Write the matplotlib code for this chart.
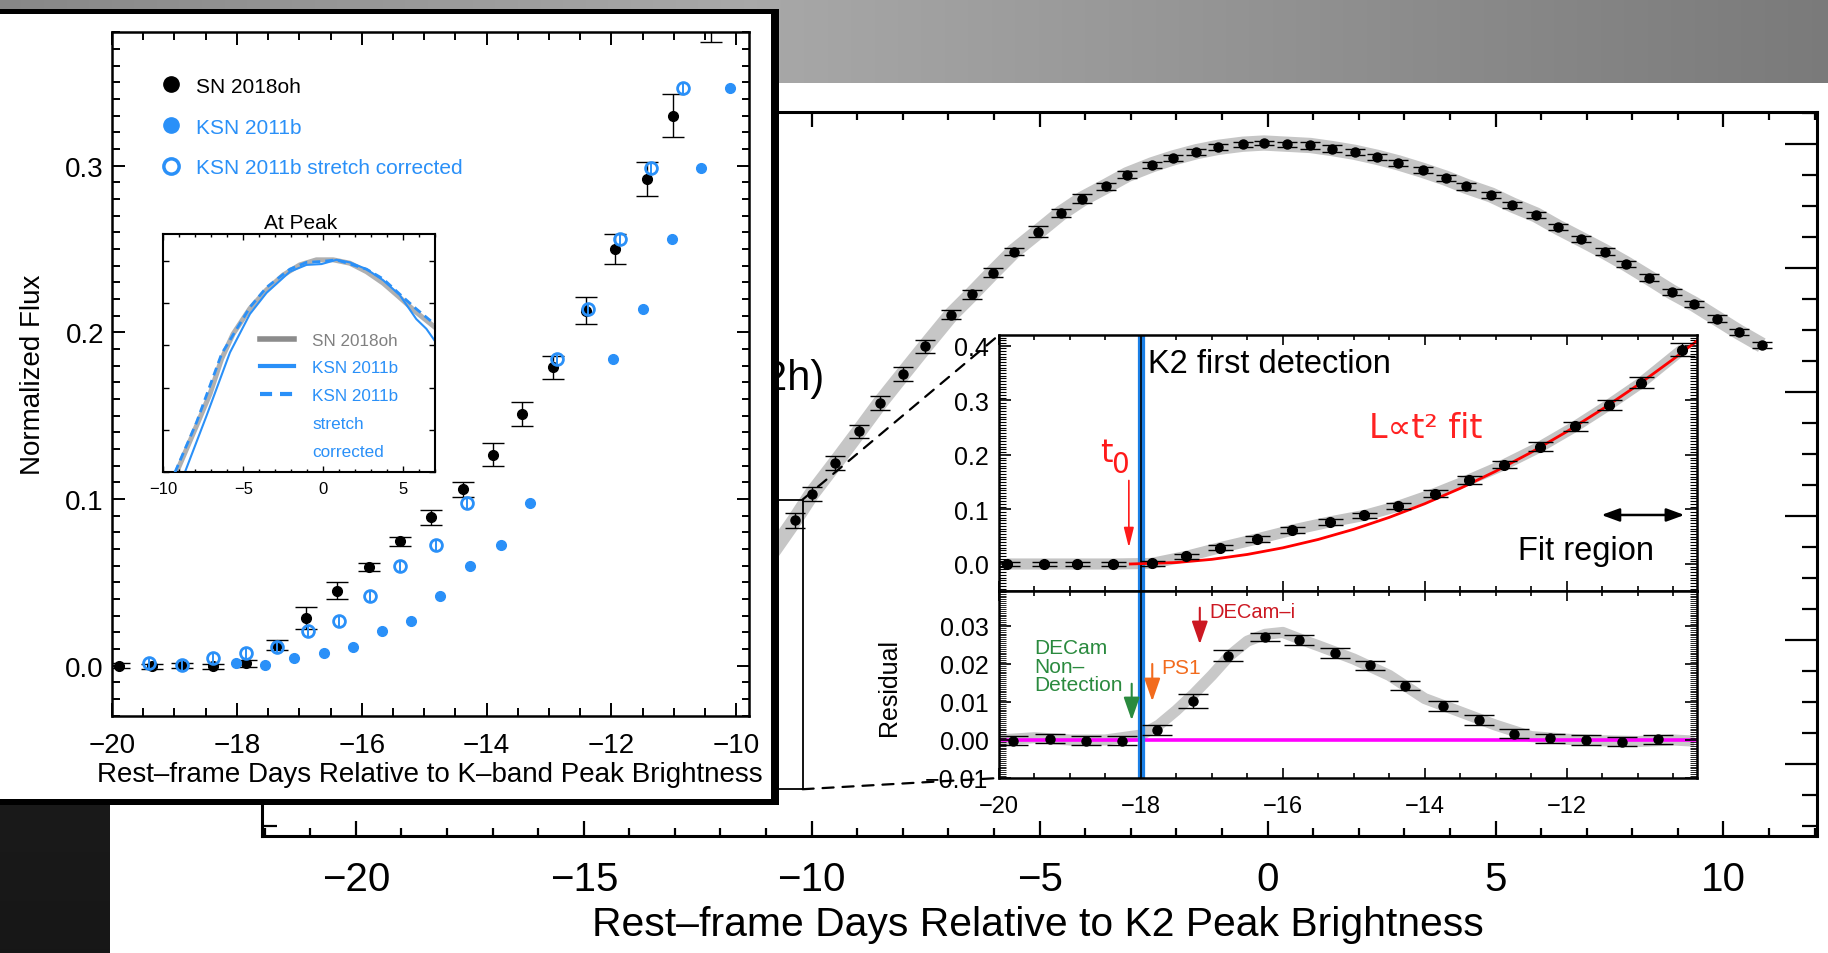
import numpy as np
import matplotlib
matplotlib.use("Agg")
import matplotlib.pyplot as plt
from matplotlib.patches import Rectangle, ConnectionPatch
from matplotlib.lines import Line2D
from matplotlib.ticker import MultipleLocator, FuncFormatter, NullFormatter

plt.rcParams['font.family'] = ['Liberation Sans', 'DejaVu Sans']
plt.rcParams['axes.unicode_minus'] = True

# ---------------------------------------------------------------- data
# K2 binned light curve (rest-frame days rel. to K2 peak, normalized flux)
k2_day = [-19.89, -19.36, -18.90, -18.40, -17.85, -17.36, -16.88, -16.36, -15.87, -15.34,
          -14.85, -14.37, -13.86, -13.38, -12.88, -12.37, -11.88, -11.40, -10.95, -10.37,
          -10.00, -9.48, -8.96, -8.50, -7.99, -7.51, -6.94, -6.49, -6.03, -5.57,
          -5.03, -4.53, -4.06, -3.55, -3.08, -2.53, -2.07, -1.56, -1.08, -0.55,
          -0.08, 0.43, 0.94, 1.42, 1.91, 2.40, 2.87, 3.40, 3.92, 4.36,
          4.91, 5.37, 5.89, 6.37, 6.87, 7.39, 7.87, 8.36, 8.86, 9.36,
          9.86, 10.34, 10.84]
k2_flux = [0.000, 0.000, 0.000, 0.000, 0.001, 0.014, 0.030, 0.046, 0.062, 0.077,
           0.089, 0.106, 0.129, 0.154, 0.182, 0.215, 0.252, 0.292, 0.332, 0.393,
           0.435, 0.485, 0.536, 0.582, 0.629, 0.673, 0.724, 0.757, 0.792, 0.826,
           0.858, 0.888, 0.911, 0.931, 0.950, 0.966, 0.977, 0.987, 0.994, 0.999,
           1.001, 0.999, 0.997, 0.992, 0.986, 0.978, 0.969, 0.957, 0.944, 0.931,
           0.917, 0.901, 0.885, 0.865, 0.846, 0.826, 0.806, 0.784, 0.761, 0.741,
           0.718, 0.696, 0.675]
k2_err = [0.004, 0.004, 0.004, 0.004, 0.004, 0.005, 0.005, 0.005, 0.005, 0.005,
          0.005, 0.006, 0.006, 0.007, 0.007, 0.008, 0.0085, 0.009, 0.0098, 0.012,
          0.012, 0.011, 0.011, 0.011, 0.011, 0.011, 0.007, 0.007, 0.007, 0.005,
          0.009, 0.007, 0.007, 0.006, 0.006, 0.005, 0.005, 0.005, 0.005, 0.004,
          0.004, 0.004, 0.005, 0.005, 0.005, 0.005, 0.005, 0.005, 0.005, 0.005,
          0.005, 0.005, 0.005, 0.005, 0.005, 0.005, 0.005, 0.005, 0.005, 0.005,
          0.005, 0.005, 0.005]

# L ~ t^2 fit
fit_day = [-18.15, -17.5, -17.0, -16.5, -16.0, -15.5, -15.0, -14.5, -14.0, -13.5,
           -13.0, -12.5, -12.0, -11.5, -11.0, -10.5, -10.17]
fit_flux = [0.0, 0.0027, 0.0085, 0.0175, 0.0296, 0.0450, 0.0636, 0.0854, 0.1104, 0.1386,
            0.1700, 0.2046, 0.2424, 0.2835, 0.3277, 0.3751, 0.4082]

# residual from the fit (binned) and the unbinned band
res_day = [-19.80, -19.28, -18.78, -18.26, -17.77, -17.26, -16.77, -16.25, -15.77, -15.26,
           -14.77, -14.28, -13.74, -13.24, -12.74, -12.23, -11.73, -11.22, -10.71]
res_val = [-0.0002, 0.0003, -0.0002, -0.0002, 0.0026, 0.0102, 0.0222, 0.0271, 0.0263, 0.0229,
           0.0197, 0.0143, 0.0089, 0.0052, 0.0016, 0.0004, 0.0000, -0.0004, 0.0002]
res_err = [0.0012, 0.0012, 0.0012, 0.0012, 0.0013, 0.0019, 0.0014, 0.0011, 0.0012, 0.0012,
           0.0012, 0.0012, 0.0014, 0.0013, 0.0012, 0.0012, 0.0012, 0.0012, 0.0012]
band_res_day = [-20.0, -19.5, -19.0, -18.5, -18.0, -17.75, -17.5, -17.25, -17.0, -16.75,
                -16.5, -16.25, -16.0, -15.75, -15.5, -15.0, -14.5, -14.0, -13.5, -13.0,
                -12.5, -12.0, -11.5, -11.0, -10.5, -10.2]
band_res_val = [0.0, 0.0006, 0.0, 0.0, 0.0013, 0.0039, 0.0078, 0.0122, 0.0170, 0.0222,
                0.0260, 0.0278, 0.0283, 0.0265, 0.0248, 0.0213, 0.0170, 0.0109, 0.0074, 0.0039,
                0.0009, 0.0002, -0.0002, -0.0004, 0.0, -0.0003]

# comparison panel: SN 2018oh vs KSN 2011b (days rel. to K-band peak)
sn18_day = [-19.88, -19.36, -18.88, -18.38, -17.86, -17.36, -16.89, -16.39, -15.88, -15.38,
            -14.89, -14.38, -13.90, -13.43, -12.93, -12.41, -11.94, -11.43, -11.01, -10.40]
sn18_flux = [0.000, -0.0002, 0.000, -0.0002, 0.0014, 0.0124, 0.0286, 0.0450, 0.0594, 0.0746,
             0.0890, 0.1058, 0.1266, 0.1510, 0.1790, 0.2130, 0.2500, 0.2920, 0.3300, 0.3900]
sn18_err = [0.0015, 0.0015, 0.0015, 0.0015, 0.002, 0.003, 0.0067, 0.0052, 0.0025, 0.0025,
            0.0045, 0.0046, 0.007, 0.0072, 0.007, 0.008, 0.009, 0.0103, 0.013, 0.016]
ksn_day = [-18.02, -17.55, -17.08, -16.61, -16.14, -15.67, -15.21, -14.74, -14.27, -13.77,
           -13.31, -11.97, -11.49, -11.03, -10.56, -10.10]
ksn_sc_day = [-19.40, -18.88, -18.38, -17.86, -17.36, -16.86, -16.37, -15.87, -15.38, -14.81,
              -14.32, -12.87, -12.37, -11.87, -11.37, -10.86]
ksn_flux = [0.0014, 0.0006, 0.0046, 0.0076, 0.0110, 0.0210, 0.0266, 0.0418, 0.0598, 0.0722,
            0.0978, 0.1840, 0.2140, 0.2560, 0.2986, 0.3465]

# "At Peak" curves
peak_sn_day = [-9.17, -7.92, -7.08, -6.35, -5.63, -4.58, -3.54, -2.50, -1.46, -0.42,
               0.63, 1.67, 2.71, 3.75, 4.79, 5.83, 6.98]
peak_sn_flux = [0.500, 0.610, 0.685, 0.768, 0.827, 0.887, 0.931, 0.966, 0.990, 1.002,
                1.002, 0.994, 0.974, 0.947, 0.913, 0.878, 0.843]
peak_ksn_day = [-8.65, -7.29, -5.83, -4.58, -3.54, -2.08, -1.04, -0.10, 0.83, 1.67,
                2.71, 3.75, 4.79, 5.83, 6.46, 6.98]
peak_ksn_flux = [0.500, 0.634, 0.783, 0.874, 0.924, 0.974, 0.990, 0.992, 1.002, 0.996,
                 0.980, 0.954, 0.919, 0.862, 0.839, 0.811]
peak_sc_day = [-9.27, -7.92, -6.35, -4.58, -3.54, -2.08, -1.04, -0.10, 0.83, 2.71,
               3.75, 4.79, 5.83, 6.98]
peak_sc_flux = [0.500, 0.618, 0.780, 0.890, 0.937, 0.980, 0.996, 0.998, 1.002, 0.980,
                0.957, 0.921, 0.886, 0.850]

# ---------------------------------------------------------------- styling
BLUE = '#2a90f8'
W, H = 1828, 954
fig = plt.figure(figsize=(W / 100, H / 100), dpi=100)


def box(l, t, r, b):
    return [l / W, 1 - b / H, (r - l) / W, (b - t) / H]


def mfmt(fmt):
    def f(v, p):
        if abs(v) < 1e-12:
            v = 0.0
        return (fmt % v).replace('-', '\u2212')
    return FuncFormatter(f)


def style(ax, spine_lw, tw, xl, xs, yl, ys, xsize, ysize, xpad, ypad, mw=None):
    for s in ax.spines.values():
        s.set_linewidth(spine_lw)
    ax.tick_params(which='both', direction='in', top=True, right=True, width=tw)
    ax.tick_params(axis='x', which='major', length=xl, pad=xpad, labelsize=xsize)
    ax.tick_params(axis='x', which='minor', length=xs)
    ax.tick_params(axis='y', which='major', length=yl, pad=ypad, labelsize=ysize)
    ax.tick_params(axis='y', which='minor', length=ys)
    if mw is not None:
        ax.tick_params(axis='y', which='minor', width=mw)


# ---------------------------------------------------------------- background
bg = fig.add_axes([0, 0, 1, 1], zorder=-10)
bg.axis('off')
xs_ = np.linspace(0, 1, 400)
gband = np.interp(xs_, [0, 750 / W, 1], [0.53, 0.66, 0.48])
bg.imshow(np.stack([gband] * 3, axis=-1)[None, :, :], extent=[0, W, 84, 0],
          aspect='auto', origin='upper', interpolation='bilinear')
ys_ = np.linspace(0.16, 0.09, 300)
bg.imshow(np.stack([ys_] * 3, axis=-1)[:, None, :], extent=[0, 110, H, 84],
          aspect='auto', origin='upper', interpolation='bilinear')
bg.set_xlim(0, W)
bg.set_ylim(H, 0)

# ---------------------------------------------------------------- main axes
axm = fig.add_axes(box(262.3, 113.3, 1816.5, 837), zorder=0)
axm.set_xlim(-22.05, 12.04)
axm.set_ylim(-0.1164, 1.0505)
axm.plot(k2_day, k2_flux, color='#c6c6c6', lw=11, zorder=2, solid_capstyle='butt')
axm.errorbar(k2_day, k2_flux, yerr=k2_err, fmt='o', color='k', ms=6.5, capsize=7,
             elinewidth=1.0, capthick=1.0, zorder=3)
axm.add_patch(Rectangle((-20.02, -0.041), 9.82, 0.467, fill=False, lw=1.3, ec='k', zorder=4))
axm.text(-9.72, 0.604, '(12h)', ha='right', va='baseline', fontsize=30)
axm.xaxis.set_major_locator(MultipleLocator(5))
axm.xaxis.set_minor_locator(MultipleLocator(1))
axm.yaxis.set_major_locator(MultipleLocator(0.2))
axm.yaxis.set_minor_locator(MultipleLocator(0.05))
axm.xaxis.set_major_formatter(mfmt('%d'))
style(axm, 2.2, 1.6, 11, 6, 23, 11, 29, 29, 17, 5)
axm.tick_params(axis='y', labelleft=False)
fig.text(1038 / W, 1 - 925 / H, 'Rest\u2013frame Days Relative to K2 Peak Brightness',
         ha='center', va='center', fontsize=29.4)

# ---------------------------------------------------------------- zoom inset (upper + residual)
axu = fig.add_axes(box(999, 336, 1696.5, 592), zorder=0.6)
axl = fig.add_axes(box(999, 592, 1696.5, 779), zorder=0.6)
n_rise = 20
axu.plot(k2_day[:n_rise], k2_flux[:n_rise], color='#c4c4c4', lw=8, zorder=1,
         solid_capstyle='butt')
axu.plot(fit_day, fit_flux, color='#ff0000', lw=2, zorder=2.5)
axu.errorbar(k2_day[:n_rise], k2_flux[:n_rise], yerr=k2_err[:n_rise], fmt='o', color='k',
             ms=7, capsize=9, elinewidth=1.0, capthick=1.0, zorder=3)
for a in (axu, axl):
    a.axvline(-18.0, color='#1a7fe6', lw=5.2, zorder=2)
    a.axvline(-18.0, color='k', lw=1.2, zorder=2.1)
    a.set_xlim(-20.0, -10.17)
    a.xaxis.set_major_locator(MultipleLocator(2))
    a.xaxis.set_minor_locator(MultipleLocator(0.5))
axu.set_ylim(-0.0495, 0.4196)
axu.yaxis.set_major_locator(MultipleLocator(0.1))
axu.yaxis.set_minor_locator(MultipleLocator(0.005))
axu.yaxis.set_major_formatter(mfmt('%.1f'))
axu.xaxis.set_major_formatter(NullFormatter())
style(axu, 1.8, 1.2, 7, 3.6, 8.4, 4.8, 17, 18, 12, 7.5, mw=0.8)

axu.text(-17.90, 0.351, 'K2 first detection', fontsize=23.5, va='baseline', ha='left')
axu.text(-14.78, 0.232, 'L\u221dt\u00b2 fit', fontsize=24, va='baseline', ha='left',
         color='#ff2222', family=['DejaVu Sans'])
axu.text(-12.69, 0.0092, 'Fit region', fontsize=23.5, va='baseline', ha='left')
axu.annotate('', xy=(-10.34, 0.0898), xytext=(-11.51, 0.0898),
             arrowprops=dict(arrowstyle='<|-|>,head_length=0.6,head_width=0.22',
                             color='k', lw=1.8, mutation_scale=18, shrinkA=0, shrinkB=0))
axu.text(-18.58, 0.189, 't', fontsize=23, va='baseline', ha='left', color='#ff1a1a',
         family=['DejaVu Sans'])
axu.text(-18.42, 0.168, '0', fontsize=20, va='baseline', ha='left', color='#ff1a1a',
         family=['DejaVu Sans'])
axu.annotate('', xy=(-18.17, 0.030), xytext=(-18.17, 0.153),
             arrowprops=dict(arrowstyle='-|>,head_length=0.8,head_width=0.2',
                             color='#ff1a1a', lw=1.2, mutation_scale=15, shrinkA=0, shrinkB=0))

axl.plot(band_res_day, band_res_val, color='#c8c8c8', lw=8, zorder=1, solid_capstyle='butt')
axl.axhline(0.0, color='#ff00ff', lw=2.6, zorder=1.5)
axl.errorbar(res_day, res_val, yerr=res_err, fmt='o', color='k', ms=6.5, capsize=11,
             elinewidth=1.0, capthick=1.0, zorder=3)
axl.set_ylim(-0.0100, 0.0392)
axl.yaxis.set_major_locator(MultipleLocator(0.01))
axl.yaxis.set_minor_locator(MultipleLocator(0.0005))
axl.yaxis.set_major_formatter(mfmt('%.2f'))
axl.xaxis.set_major_formatter(mfmt('%d'))
style(axl, 1.8, 1.2, 7, 3.6, 8.4, 4.8, 17, 18, 12, 7.5, mw=0.6)
axl.text(-0.157, 0.488, 'Residual', transform=axl.transAxes, rotation=90, ha='center',
         va='center', fontsize=18)

GREEN, ORANGE, DRED = '#2a8a3e', '#f26b1d', '#cc1822'
for txt, yv in (('DECam', 0.0243), ('Non\u2013', 0.0194), ('Detection', 0.0145)):
    axl.text(-19.50, yv, txt, color=GREEN, fontsize=15, ha='left', va='center')
axl.text(-17.72, 0.0191, 'PS1', color=ORANGE, fontsize=15, ha='left', va='center')
axl.text(-17.04, 0.0339, 'DECam\u2013i', color=DRED, fontsize=14.5, ha='left', va='center')
for xv, y0, y1, c in ((-18.13, 0.0148, 0.0052, GREEN), (-17.84, 0.0200, 0.0102, ORANGE),
                      (-17.17, 0.0348, 0.0252, DRED)):
    axl.annotate('', xy=(xv, y1), xytext=(xv, y0),
                 arrowprops=dict(arrowstyle='-|>,head_length=1.0,head_width=0.35',
                                 color=c, lw=1.5, mutation_scale=14, shrinkA=0, shrinkB=0))

# dashed connectors from the main-plot box to the inset
for yA, yB, axB in ((0.426, 1.0, axu), (-0.041, 0.0, axl)):
    con = ConnectionPatch(xyA=(-10.2, yA), coordsA=axm.transData, xyB=(0.0, yB),
                          coordsB=axB.transAxes, color='k', lw=1.6, ls=(0, (5, 4)), zorder=0.5)
    fig.add_artist(con)

# ---------------------------------------------------------------- overlay comparison panel
fig.add_artist(Rectangle((-10 / W, 1 - 806 / H), 789 / W, 796 / H, transform=fig.transFigure,
                         facecolor='black', edgecolor='none', zorder=1))
fig.add_artist(Rectangle((-10 / W, 1 - 800 / H), 780.6 / W, 785 / H, transform=fig.transFigure,
                         facecolor='white', edgecolor='none', zorder=1.01))

axo = fig.add_axes(box(112, 33.3, 748.8, 716.7), zorder=2)
axo.set_xlim(-20.0, -9.8)
axo.set_ylim(-0.03, 0.38)
axo.errorbar(sn18_day, sn18_flux, yerr=sn18_err, fmt='o', color='k', ms=7, capsize=8,
             elinewidth=1.0, capthick=1.0, zorder=3)
axo.plot(ksn_day, ksn_flux, 'o', color=BLUE, ms=7, zorder=4)
axo.errorbar(ksn_sc_day, ksn_flux, yerr=[0.003] * len(ksn_flux), fmt='o', color=BLUE,
             mfc='none', mec=BLUE, mew=2.0, ms=8.5, capsize=0, elinewidth=1.4, zorder=5)
axo.xaxis.set_major_locator(MultipleLocator(2))
axo.xaxis.set_minor_locator(MultipleLocator(0.5))
axo.yaxis.set_major_locator(MultipleLocator(0.1))
axo.yaxis.set_minor_locator(MultipleLocator(0.01))
axo.xaxis.set_major_formatter(mfmt('%d'))
axo.yaxis.set_major_formatter(mfmt('%.1f'))
style(axo, 1.8, 1.4, 9.5, 5.5, 9, 5.4, 20, 20, 11.9, 5.8)
axo.text(0.4987, -0.0858, 'Rest\u2013frame Days Relative to K\u2013band Peak Brightness',
         transform=axo.transAxes, ha='center', va='center', fontsize=20)
axo.text(-0.124, 0.5, 'Normalized Flux', transform=axo.transAxes, rotation=90,
         ha='center', va='center', fontsize=20)
h1 = Line2D([], [], ls='none', marker='o', ms=11, mfc='k', mec='k')
h2 = Line2D([], [], ls='none', marker='o', ms=11, mfc=BLUE, mec=BLUE)
h3 = Line2D([], [], ls='none', marker='o', ms=11, mfc='none', mec=BLUE, mew=2.5)
axo.legend([h1, h2, h3], ['SN 2018oh', 'KSN 2011b', 'KSN 2011b stretch corrected'],
           loc='upper left', bbox_to_anchor=(0.077, 0.935), frameon=False, fontsize=15,
           handlelength=1.0, handletextpad=0.68, labelspacing=1.05, borderpad=0,
           borderaxespad=0, labelcolor=['k', BLUE, BLUE], numpoints=1)

# ---------------------------------------------------------------- "At Peak" inset
axp = fig.add_axes(box(163.3, 235, 435, 473.3), zorder=3)
axp.set_xlim(-10, 7)
axp.set_ylim(0.5, 1.063)
axp.plot(peak_sn_day, peak_sn_flux, color='#b0b0b0', lw=3.6, zorder=1)
axp.plot(peak_ksn_day, peak_ksn_flux, color=BLUE, lw=1.5, zorder=2)
axp.plot(peak_sc_day, peak_sc_flux, color=BLUE, lw=2.0, ls=(0, (2.9, 1.8)), zorder=3)
axp.xaxis.set_major_locator(MultipleLocator(5))
axp.xaxis.set_minor_locator(MultipleLocator(1))
axp.yaxis.set_major_locator(MultipleLocator(0.1))
axp.xaxis.set_major_formatter(mfmt('%d'))
style(axp, 1.5, 1.0, 4, 2.5, 4, 2.5, 12, 12, 6, 4)
axp.tick_params(axis='y', labelleft=False)
axp.text(0.506, 1.05, 'At Peak', transform=axp.transAxes, ha='center', va='center',
         fontsize=15)
hg = Line2D([], [], color='#8c8c8c', lw=4)
hb = Line2D([], [], color=BLUE, lw=3)
hd = Line2D([], [], color=BLUE, lw=3, ls=(0, (2.9, 1.9)))
he = Line2D([], [], color='none')
axp.legend([hg, hb, hd, he, he], ['SN 2018oh', 'KSN 2011b', 'KSN 2011b', 'stretch', 'corrected'],
           loc='upper left', bbox_to_anchor=(0.356, 0.586), frameon=False, fontsize=12.3,
           handlelength=2.0, handletextpad=1.06, labelspacing=0.75, borderpad=0,
           borderaxespad=0, labelcolor=['#808080', BLUE, BLUE, BLUE, BLUE])

fig.savefig('out.png', dpi=100)
